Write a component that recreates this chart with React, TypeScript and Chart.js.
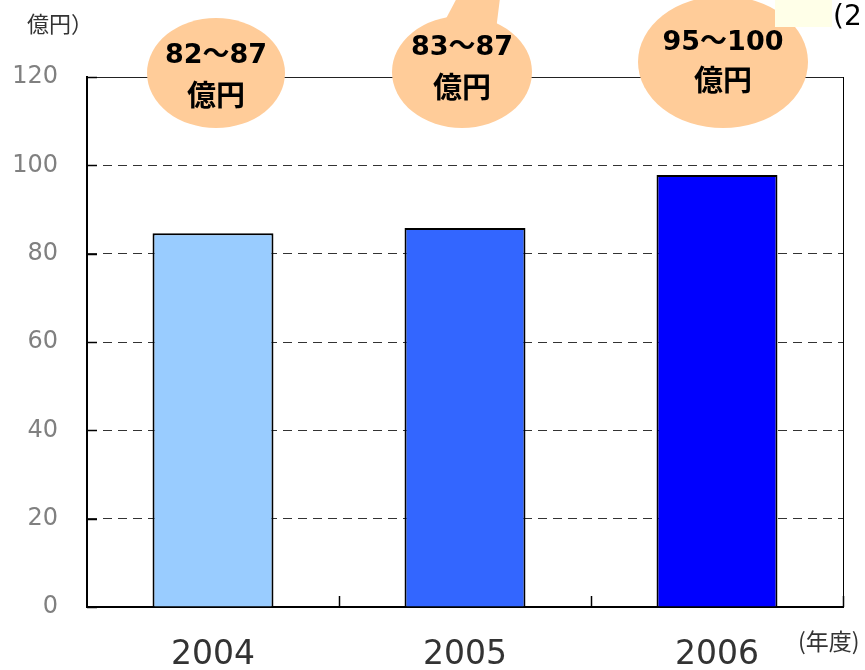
import React, { useEffect, useRef } from "react";
import { Chart, registerables } from "chart.js";

Chart.register(...registerables);

const categories = ["2004", "2005", "2006"];
const values = [84.6, 85.8, 97.8];
const barColors = ["#99CCFF", "#3366FF", "#0000FF"];
const yTicks = [0, 20, 40, 60, 80, 100, 120];
const bubbleRanges = ["82～87", "83～87", "95～100"];
const bubbleUnit = "億円";
const unitLabel = "億円）";
const yearLabel = "(年度)";
const cornerLabel = "(2";

const bubbleLayout = [
  { dx: 3, dy: -4, rx: 69, ry: 55, t1: -21, t2: 18, tail: false },
  { dx: -3, dy: -5, rx: 70, ry: 56, t1: -29, t2: 10, tail: true },
  { dx: 6, dy: -15, rx: 85, ry: 66, t1: -34, t2: 3, tail: false },
];

const CJK = '"Noto Sans CJK JP", "Noto Sans CJK SC", sans-serif';

const overlayPlugin = {
  id: "overlay",
  afterDraw(chart: any) {
    const { ctx, chartArea: a, scales } = chart;
    const x = scales.x;
    const y = scales.y;
    ctx.save();

    // top & right border
    ctx.strokeStyle = "#222";
    ctx.lineWidth = 1;
    ctx.beginPath();
    ctx.moveTo(a.left, Math.round(a.top) + 0.5);
    ctx.lineTo(a.right, Math.round(a.top) + 0.5);
    ctx.stroke();
    ctx.strokeStyle = "#000";
    ctx.beginPath();
    ctx.moveTo(Math.round(a.right) + 0.5, a.top);
    ctx.lineTo(Math.round(a.right) + 0.5, a.bottom);
    ctx.stroke();

    // y inner ticks
    ctx.lineWidth = 1.5;
    yTicks.forEach((v) => {
      const py = Math.round(y.getPixelForValue(v)) + 0.5;
      ctx.beginPath();
      ctx.moveTo(a.left, py);
      ctx.lineTo(a.left + 10, py);
      ctx.stroke();
    });

    // x boundary ticks
    for (let i = 0; i < categories.length; i++) {
      const bx = Math.round(x.getPixelForValue(i + 0.5)) + 0.5;
      ctx.beginPath();
      ctx.moveTo(bx, a.bottom);
      ctx.lineTo(bx, a.bottom - 11);
      ctx.stroke();
    }

    // bubbles
    ctx.fillStyle = "#FFCC99";
    bubbleLayout.forEach((b, i) => {
      const cx = x.getPixelForValue(i) + b.dx;
      const cy = a.top + b.dy;
      ctx.beginPath();
      ctx.ellipse(cx, cy, b.rx, b.ry, 0, 0, Math.PI * 2);
      ctx.fill();
      if (b.tail) {
        ctx.beginPath();
        ctx.moveTo(cx - 3, cy - 78);
        ctx.lineTo(cx + 38.5, cy - 78);
        ctx.lineTo(cx + 34, cy - 42);
        ctx.lineTo(cx - 22, cy - 42);
        ctx.closePath();
        ctx.fill();
      }
    });

    // pale box at top right
    ctx.fillStyle = "#FFFFE8";
    ctx.fillRect(775, 0, 57, 27);

    // bubble texts
    ctx.fillStyle = "#000";
    ctx.textAlign = "center";
    ctx.textBaseline = "middle";
    bubbleLayout.forEach((b, i) => {
      const cx = x.getPixelForValue(i) + b.dx;
      ctx.font = 'bold 27px "DejaVu Sans", ' + CJK;
      ctx.fillText(bubbleRanges[i], cx, a.top + b.t1);
      ctx.font = "bold 29px " + CJK;
      ctx.fillText(bubbleUnit, cx, a.top + b.t2);
    });

    // other labels
    ctx.textAlign = "left";
    ctx.fillStyle = "#333";
    ctx.font = "22px " + CJK;
    ctx.fillText(unitLabel, 27, 24);
    ctx.font = "23px " + CJK;
    ctx.fillText(yearLabel, 798, 641);
    ctx.fillStyle = "#000";
    ctx.font = '28px "DejaVu Sans"';
    ctx.fillText(cornerLabel, 833, 18);

    ctx.restore();
  },
};

export default function App() {
  const ref = useRef<HTMLCanvasElement | null>(null);
  useEffect(() => {
    if (!ref.current) return;
    const chart = new Chart(ref.current, {
      type: "bar",
      data: {
        labels: categories,
        datasets: [
          {
            data: values,
            backgroundColor: barColors,
            borderColor: "#000",
            borderWidth: 2,
            barPercentage: 0.48,
            categoryPercentage: 1,
          },
        ],
      },
      options: {
        responsive: false,
        animation: false,
        devicePixelRatio: 1,
        layout: { padding: { top: 77, right: 22, left: 0, bottom: 0 } },
        plugins: { legend: { display: false }, tooltip: { enabled: false } },
        scales: {
          x: {
            type: "category",
            offset: true,
            grid: { display: false, drawTicks: false },
            border: { display: true, color: "#000", width: 2 },
            ticks: {
              color: "#333",
              font: { family: "DejaVu Sans", size: 33 },
              padding: 29,
            },
            afterFit(scale: any) {
              scale.height = 63;
            },
          },
          y: {
            min: 0,
            max: 120,
            ticks: {
              stepSize: 20,
              color: "#808080",
              font: { family: "DejaVu Sans", size: 24 },
              padding: 29,
            },
            grid: {
              color: "#333",
              lineWidth: 1,
              drawTicks: false,
              tickLength: 0,
            },
            border: { display: true, color: "#000", width: 2, dash: [9, 6] } as any,
            afterFit(scale: any) {
              scale.width = 87;
            },
          },
        },
      },
      plugins: [overlayPlugin],
    });
    return () => chart.destroy();
  }, []);
  return (
    <div style={{ position: "fixed", left: 0, top: 0, width: 865, height: 670, background: "#fff" }}>
      <canvas ref={ref} width={865} height={670} />
    </div>
  );
}
